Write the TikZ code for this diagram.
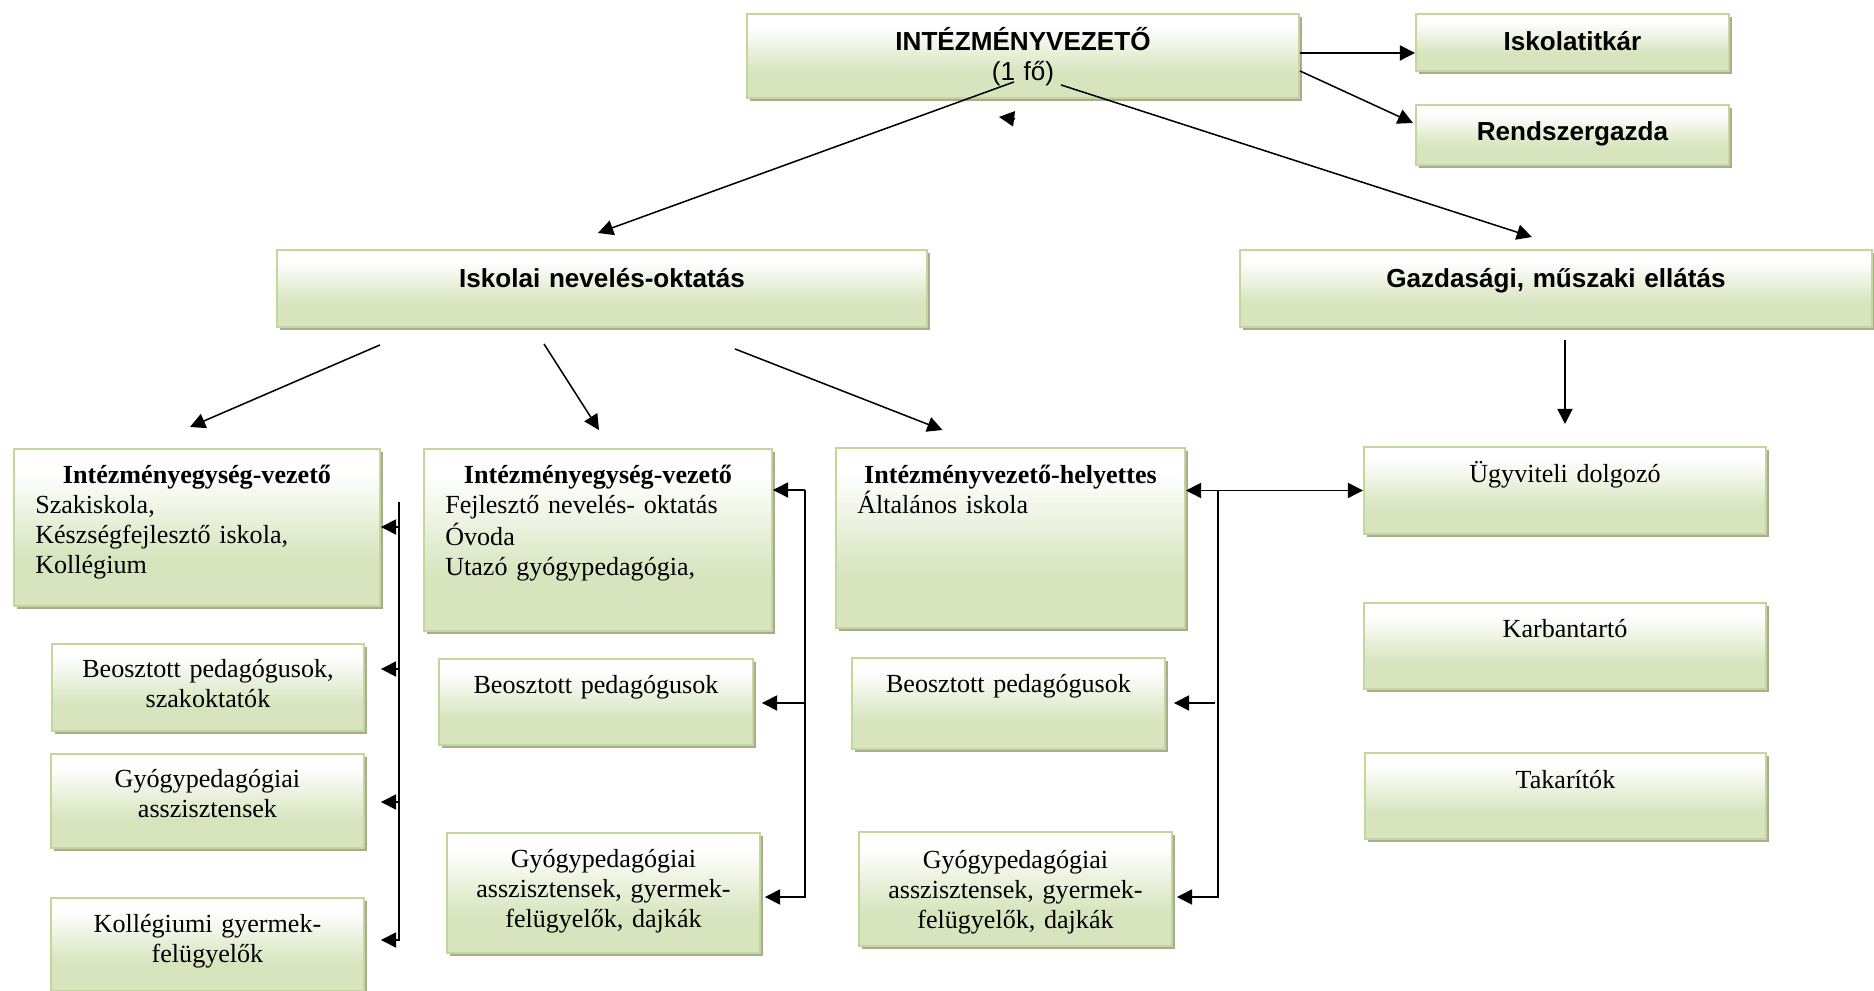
\documentclass[tikz,border=0pt]{standalone}
\usepackage{fontspec}
\setmainfont{Liberation Serif}
\newfontfamily\headfont{Liberation Sans}
\usetikzlibrary{arrows.meta,calc,shadows}

\definecolor{boxline}{HTML}{C3D69B}
\definecolor{boxfill}{HTML}{D7E4BD}
\definecolor{boxshadow}{HTML}{A5AC8F}
\pgfdeclareverticalshading{boxshade}{100bp}{color(0bp)=(boxfill); color(40bp)=(boxfill); color(68bp)=(white); color(100bp)=(white)}
\newcommand\bodyin[1]{\par\makebox[\linewidth][l]{\hspace*{9.8pt}\begin{tabular}[t]{@{}l@{}}#1\end{tabular}}}

\tikzset{
  box/.style n args={3}{draw=boxline, line width=0.9pt, shade, shading=boxshade,
    drop shadow={shadow xshift=1.4pt, shadow yshift=-1.4pt, fill=boxshadow, opacity=1},
    anchor=north west, inner sep=0pt, align=center,
    font=\fontsize{12}{13.8}\selectfont,
    text width=#1*0.46pt, text height=#3*0.46pt, text depth=(#2-#3)*0.46pt},
  head/.style={font=\fontsize{12}{13.8}\selectfont\headfont\bfseries},
}

\begin{document}
\begin{tikzpicture}[x=0.46pt, y=-0.46pt, >={Triangle[length=7pt,width=7pt]}, line width=0.7pt]
        \useasboundingbox (0,0) rectangle (1874,991);

        % top level
        \node[box={552}{84}{37}, head] (top) at (746,13) {INTÉZMÉNYVEZETŐ\\{\mdseries (1 fő)}};
        \node[box={313}{57}{37}, head] (tit) at (1415,13) {Iskolatitkár};
        \node[box={313}{60}{36}, head] (rsz) at (1415,104) {Rendszergazda};

        % second level
        \node[box={650}{77}{38}, head] (isk) at (276,249) {Iskolai nevelés-oktatás};
        \node[box={632}{77}{38}, head] (gaz) at (1239,249) {Gazdasági, műszaki ellátás};

        % units
        \node[box={366}{157}{35}] (iev1) at (13,448) {\textbf{Intézményegység-vezető}\bodyin{Szakiskola,\\Készségfejlesztő iskola,\\Kollégium}};
        \node[box={348}{182}{35}] (iev2) at (423,448) {\textbf{Intézményegység-vezető}\bodyin{Fejlesztő nevelés- oktatás\\Óvoda\\Utazó gyógypedagógia,}};
        \node[box={349}{180}{36}] (ivh) at (835,447) {\textbf{Intézményvezető-helyettes}\bodyin{Általános iskola}};
        \node[box={402}{87}{36}] (ugy) at (1363,446) {Ügyviteli dolgozó};
        \node[box={402}{86}{35}] (kar) at (1363,602) {Karbantartó};
        \node[box={401}{86}{36}] (tak) at (1364,752) {Takarítók};

        % staff
        \node[box={312}{87}{34}] (lbeo) at (51,643) {Beosztott pedagógusok,\\szakoktatók};
        \node[box={313}{94}{34}] (lgyo) at (50,753) {Gyógypedagógiai\\asszisztensek};
        \node[box={313}{93}{35}] (lkol) at (50,897) {Kollégiumi gyermek-\\felügyelők};
        \node[box={314}{86}{35}] (mbeo) at (438,658) {Beosztott pedagógusok};
        \node[box={313}{120}{35}] (mgyo) at (446,832) {Gyógypedagógiai\\asszisztensek, gyermek-\\felügyelők, dajkák};
        \node[box={313}{91}{35}] (rbeo) at (851,657) {Beosztott pedagógusok};
        \node[box={313}{114}{37}] (rgyo) at (858,831) {Gyógypedagógiai\\asszisztensek, gyermek-\\felügyelők, dajkák};

        % arrows from the head
        \draw[->] ($(top.east)+(0,-3)$) -- ($(top.east -| tit.west)+(0,-3)$);
        \draw[->] ($(top.east)+(0,15)$) -- ($(rsz.west)+(-2,-12)$);
        \draw[->] ($(top.south)+(-9,-17)$) -- ($(isk.north)+(-4,-16)$);
        \draw[->] ($(top.south)+(38,-14)$) -- ($(gaz.north)+(-24,-12)$);
        \draw[->] ($(top.south)+(-8,20)$) -- ++(-16,-2);

        \draw[->] ($(isk.south)+(-222,17)$) -- ($(iev1.north)+(-7,-21)$);
        \draw[->] ($(isk.south)+(-58,16)$) -- ($(iev2.north)+(1,-18)$);
        \draw[->] ($(isk.south)+(133,21)$) -- ($(ivh.north)+(-68,-17)$);
        \draw[->] ($(gaz.south -| ugy.north)+(0,12)$) -- ($(ugy.north)+(0,-22)$);

        % left bracket
        \coordinate (ltop) at (399,502);
        \coordinate (lbot) at (399,940);
        \coordinate (l1) at (399,527);
        \coordinate (l2) at (399,669);
        \coordinate (l3) at (399,802);
        \draw[->] (ltop) -- (lbot) -- (lbot -| iev1.east);
        \foreach \c in {l1,l2,l3}
          \draw[->] (\c) -- (\c -| iev1.east);

        % middle bracket
        \coordinate (mtop) at (805,490);
        \coordinate (mmid) at (805,703);
        \coordinate (mbot) at (805,897);
        \draw[->] (mtop) -- (mtop -| iev2.east);
        \draw[->] (mtop) -- (mbot) -- ($(mbot -| mgyo.east)+(4,0)$);
        \draw[->] (mmid) -- ($(mmid -| mbeo.east)+(8,0)$);

        % right bracket
        \coordinate (rtop) at (1218,490);
        \coordinate (rmid) at (1215,703);
        \coordinate (rbot) at (1218,897);
        \draw[<->] (ugy.west -| ivh.east) -- (ugy.west);
        \draw[->] (rtop) -- (rbot) -- ($(rbot -| rgyo.east)+(4,0)$);
        \draw[->] (rmid) -- ($(rmid -| rbeo.east)+(8,0)$);
\end{tikzpicture}
\end{document}
